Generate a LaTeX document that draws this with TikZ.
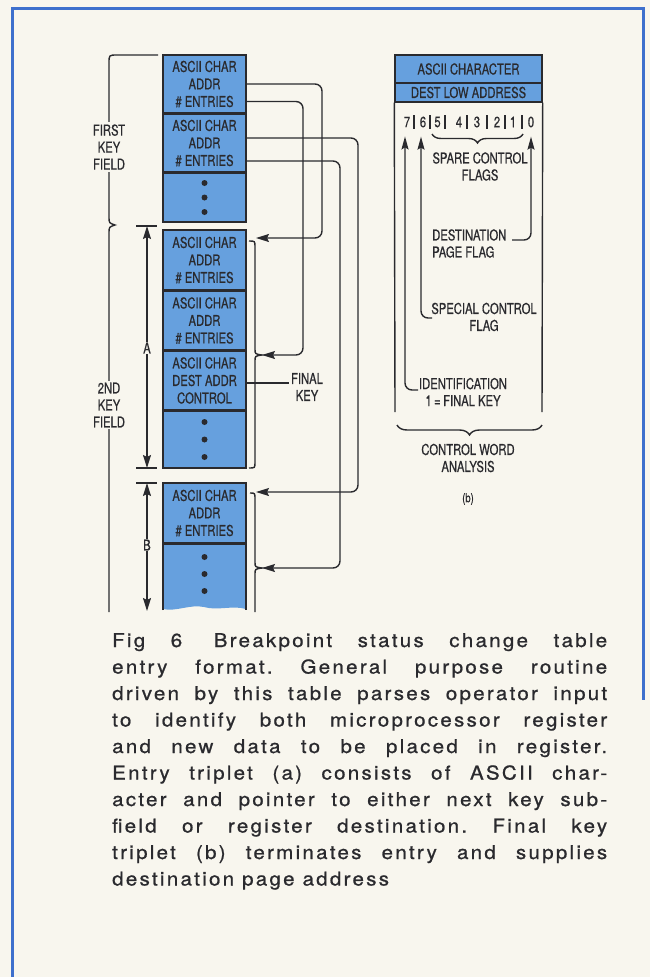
\documentclass[tikz,border=0pt]{standalone}
\usepackage{fontspec}
\setmainfont{TeX Gyre Heros}
\newfontfamily\condf[FakeStretch=0.75,FakeBold=0.5]{TeX Gyre Heros}
\newfontfamily\capf[LetterSpace=12,FakeStretch=1.08,FakeBold=0.9]{TeX Gyre Heros}
\usetikzlibrary{arrows.meta,decorations.pathreplacing}
\definecolor{paper}{RGB}{248,246,238}
\definecolor{framec}{RGB}{62,112,205}
\definecolor{cellblue}{RGB}{102,160,222}
\definecolor{ink}{RGB}{42,42,46}
\begin{document}
\frenchspacing
\begin{tikzpicture}[x=1pt,y=-1pt,
  cell/.style={draw=ink, fill=cellblue, line width=1.4pt, minimum width=83pt, inner sep=0pt,
    align=center, text=ink, font=\condf\fontsize{15}{17.5}\selectfont},
  rcell/.style={draw=ink, fill=cellblue, line width=1.4pt, minimum width=147pt, inner sep=0pt,
    text=ink, font=\condf\fontsize{15}{17}\selectfont},
  lbl/.style={text=ink, inner sep=1pt, align=center, font=\condf\fontsize{15}{17}\selectfont},
  lblw/.style={lbl, fill=paper, inner sep=2pt},
  line/.style={draw=ink, line width=1.4pt},
  conn/.style={line, rounded corners=7pt, -{Stealth[length=13pt,width=8pt,inset=2pt]}},
  dimarr/.style={line, {Stealth[length=13pt,width=8pt,inset=2pt]}-{Stealth[length=13pt,width=8pt,inset=2pt]}},
  uparr/.style={line, rounded corners=7pt, -{Stealth[length=13pt,width=7pt,inset=2pt]}},
  brc/.style={line, decorate},
  capline/.style={anchor=base west, inner sep=0pt, text=ink, font=\capf\fontsize{19}{26}\selectfont},
  dot/.style={fill=ink}
]
% background and frame
\fill[paper] (0,0) rectangle (650,977);
\useasboundingbox (0,0) rectangle (650,977);
\draw[framec, line width=3pt] (12,977) -- (12,8) -- (643,8) -- (643,700);

% ---------- left column ----------
\node[cell, minimum height=58pt] (b1) at (204.5,84) {ASCII CHAR\\ADDR\\\# ENTRIES};
\node[cell, minimum height=58pt] (b2) at (204.5,143) {ASCII CHAR\\ADDR\\\# ENTRIES};
\node[cell, minimum height=49pt] (b3) at (204.5,197.5) {};
\node[cell, minimum height=60pt] (b4) at (204.5,260) {ASCII CHAR\\ADDR\\\# ENTRIES};
\node[cell, minimum height=59pt] (b5) at (204.5,320.5) {ASCII CHAR\\ADDR\\\# ENTRIES};
\node[cell, minimum height=59pt] (b6) at (204.5,380.5) {ASCII CHAR\\DEST ADDR\\CONTROL};
\node[cell, minimum height=57pt] (b7) at (204.5,439.5) {};
\node[cell, minimum height=60pt] (b8) at (204.5,513) {ASCII CHAR\\ADDR\\\# ENTRIES};
% last, torn-off cell
\fill[cellblue] (163,544) -- (246,544) -- (246,609) .. controls (232,605) and (218,611) .. (204,607)
  .. controls (190,604) and (176,612) .. (163,609) -- cycle;
\draw[line] (163,610) -- (163,544) -- (246,544) -- (246,610);
\node[inner sep=0pt] (b9) at (204.5,575) {};

% dots
\foreach \y in {183,197.5,212,422,439.5,457,557,574,591}
  \fill[dot] (204.5,\y) circle (3pt);

% key field bracket
\draw[line] (158,55) -- (117,55) .. controls (109,55) .. (109,63) -- (109,217)
  .. controls (109,223) .. (115,225) .. controls (109,227) .. (109,233) -- (109,612);
\node[lblw] (kf1) at (109,147) {FIRST\\KEY\\FIELD};
\node[lblw] (kf2) at (109,405) {2ND\\KEY\\FIELD};

% dimension A
\coordinate (aT) at (147,226);
\coordinate (aB) at (147,468);
\draw[line] (136,226) -- (157,226);
\draw[line] (136,468) -- (157,468);
\draw[dimarr] (aT) -- (aB);
\node[lblw, inner sep=1pt] (la) at (147,348) {A};
% dimension B
\coordinate (bT) at (147,483);
\coordinate (bB) at (147,611);
\draw[line] (136,483) -- (157,483);
\draw[dimarr] (bT) -- (bB);
\node[lblw, inner sep=1pt] (lb) at (147,545) {B};

% braces to the right of the cells
\draw[line] (249,241) .. controls (255,241) .. (255,247) -- (255,349)
  .. controls (255,354) .. (262,355) .. controls (255,356) .. (255,361) -- (255,462)
  .. controls (255,468) .. (249,468);
\draw[line] (250,493) .. controls (255,493) .. (255,499) -- (255,562)
  .. controls (255,567) .. (262,568) .. controls (255,569) .. (255,574) -- (255,612);

% pointer connectors
\coordinate (t1) at (256,238);
\coordinate (t2) at (262,355);
\coordinate (t3) at (256,492);
\coordinate (t4) at (262,568);
\draw[conn] (b1.east) -- (322,84) -- (322,238) -- (t1);
\draw[conn] ([yshift=-17.5pt]b1.east) -- (303,101.5) -- (303,355) -- (t2);
\draw[conn] ([yshift=5pt]b2.east) -- (358,138) -- (358,492) -- (t3);
\draw[conn] ([yshift=-18pt]b2.east) -- (340,161) -- (340,568) -- (t4);

% final key label
\node[lbl] (fk) at (307,387) {FINAL\\KEY};
\draw[line] ([yshift=-2.5pt]b6.east) -- (289,383);

% ---------- right diagram ----------
\node[rcell, minimum height=28pt] (r1) at (468.5,69) {\raisebox{-2pt}{ASCII CHARACTER}};
\node[rcell, minimum height=19pt] (r2) at (468.5,92.5) {DEST LOW ADDRESS};
\draw[line] (r2.south west) -- (395,412);
\draw[line] (r2.south east) -- (542,412);

% bit numbers
\foreach \n/\x in {7/407,6/423,5/437.5,4/459,3/477,2/497,1/513,0/531}
  \node[lbl, inner sep=0pt] (bit\n) at (\x,122) {\n};
\foreach \x in {414,430,445,467,487,505,522}
  \draw[line] (\x,115) -- (\x,129);

% spare control flags
\draw[brc, decoration={brace, amplitude=9pt}] (523,134) -- (432,134);
\node[lbl] (spare) at (480,166.5) {SPARE CONTROL\\FLAGS};

% destination page flag
\node[lbl, align=left, anchor=west] (dpf) at (431,243.5) {DESTINATION\\PAGE FLAG};
\coordinate (dph) at (512,240);
\draw[uparr] (dph) -| ([yshift=-9pt]bit0.south);

% special control flag
\node[lbl] (scf) at (484,317) {SPECIAL CONTROL\\FLAG};
\coordinate (sch) at (432,318);
\draw[uparr] (sch) -| ([yshift=-9pt,xshift=-2pt]bit6.south);

% identification
\node[lbl] (idn) at (463,392) {IDENTIFICATION\\1\,=\,FINAL KEY};
\coordinate (idh) at (418,390);
\draw[uparr] (idh) -| ([yshift=-9pt,xshift=-2pt]bit7.south);

% control word analysis
\draw[brc, decoration={brace, amplitude=10pt}] (542,425) -- (397,425);
\node[lbl] (cwa) at (468,458) {CONTROL WORD\\ANALYSIS};
\node[lbl, font=\condf\fontsize{12.5}{14}\selectfont] (pb) at (468,499) {(b)};

% ---------- caption ----------
\node[capline] (c1) at (112,647) {\makebox[495pt][s]{Fig 6\hspace{6pt} Breakpoint status change table}};
\node[capline] (c2) at (112,673.5) {\makebox[495pt][s]{entry format. General purpose routine}};
\node[capline] (c3) at (112,700) {\makebox[495pt][s]{driven by this table parses operator input}};
\node[capline] (c4) at (112,726.5) {\makebox[495pt][s]{to identify both microprocessor register}};
\node[capline] (c5) at (112,753) {\makebox[495pt][s]{and new data to be placed in register.}};
\node[capline] (c6) at (112,779.5) {\makebox[495pt][s]{Entry triplet (a) consists of ASCII char-}};
\node[capline] (c7) at (112,806) {\makebox[495pt][s]{acter and pointer to either next key sub-}};
\node[capline] (c8) at (112,832.5) {\makebox[495pt][s]{field or register destination. Final key}};
\node[capline] (c9) at (112,859) {\makebox[495pt][s]{triplet (b) terminates entry and supplies}};
\node[capline] (c10) at (112,885.5) {destination page address};
\end{tikzpicture}
\end{document}
